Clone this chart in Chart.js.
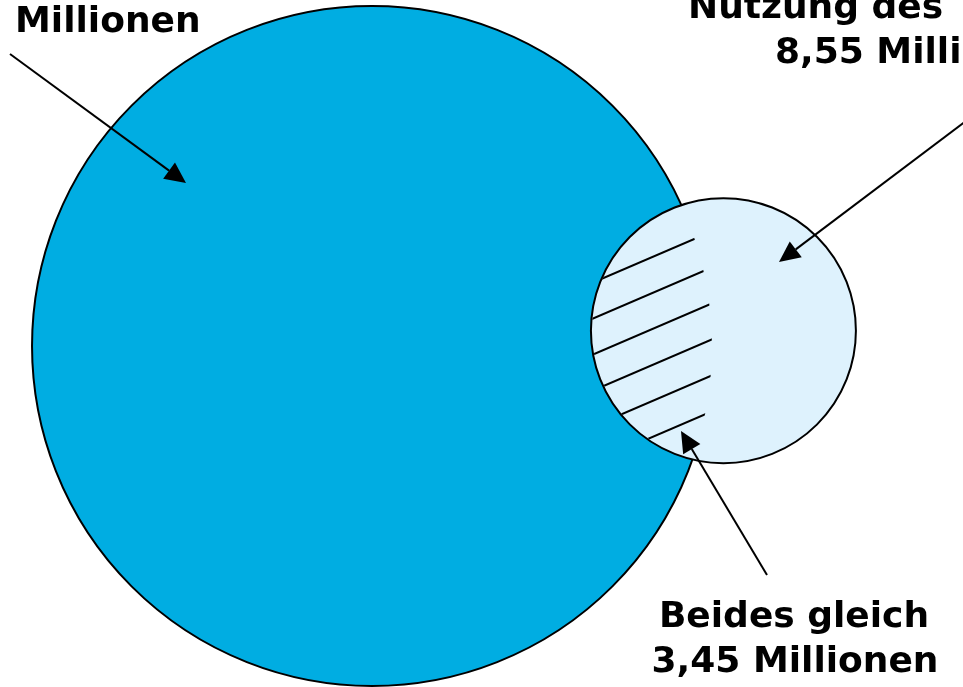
<!DOCTYPE html>
<html><head><meta charset="utf-8">
<script src="https://cdn.jsdelivr.net/npm/chart.js@4"></script>
<style>html,body{margin:0;padding:0;background:#fff;overflow:hidden}</style>
</head><body>
<canvas id="c" width="963" height="687"></canvas>
<script>
// ---------- DATA (millions) ----------
const setNames   = ['Gesamt', 'Nutzung des'];
const setValues  = [56.3, 8.55];          // first value estimated from circle area (label cut off)
const overlapValue = 3.45;                 // "Beides gleich"
const labelTexts = [
  ['Millionen'],
  ['Nutzung des', '8,55 Millionen'],
  ['Beides gleich', '3,45 Millionen']
];

// ---------- LAYOUT ----------
const W = 963, H = 687;                    // axis range = canvas size, so 1 axis unit = 1 px
const unitsPerSqrtMillion = 45.31;         // circle radius (axis units) per sqrt(million)
const bigCenter = {x: 372, y: 346};
const smallDirDeg = -2.5;                  // direction from big to small circle
const colBig = '#00ADE2', colSmall = '#DEF2FD';
const FONT = 'bold 36px "DejaVu Sans"';
const labelAnchors = [                     // [x, baselineY, align, x2, baselineY2]
  [15, 32, 'left'],
  [688, 18, 'left', 775, 63],
  [794, 627, 'center', 795, 672]
];
const arrows = [                           // from -> tip (axis units)
  [10, 54, 186, 183],
  [990, 103, 779, 262],
  [767, 575, 681, 431]
];
const hatch = {slope: -0.43, refX: 650, firstY: 258, gap: 36, count: 6};

// radii from values (area proportional)
const rBig = unitsPerSqrtMillion * Math.sqrt(setValues[0]);
const rSmall = unitsPerSqrtMillion * Math.sqrt(setValues[1]);
function lensArea(d, r, R) {
  const a = r*r*Math.acos((d*d + r*r - R*R)/(2*d*r));
  const b = R*R*Math.acos((d*d + R*R - r*r)/(2*d*R));
  const c = 0.5*Math.sqrt((-d+r+R)*(d+r-R)*(d-r+R)*(d+r+R));
  return a + b - c;
}
const targetOverlap = overlapValue * unitsPerSqrtMillion * unitsPerSqrtMillion * Math.PI;
let lo = rBig - rSmall + 0.01, hi = rBig + rSmall - 0.01;
for (let i = 0; i < 60; i++) {
  const mid = (lo + hi) / 2;
  if (lensArea(mid, rSmall, rBig) > targetOverlap) lo = mid; else hi = mid;
}
const dist = (lo + hi) / 2;
const ang = smallDirDeg * Math.PI / 180;
const smallCenter = {x: bigCenter.x + dist*Math.cos(ang), y: bigCenter.y + dist*Math.sin(ang)};
const pxPerUnit = 963 / W;

const overlay = {
  id: 'overlay',
  afterDatasetsDraw(chart) {
    const ctx = chart.ctx, sx = chart.scales.x, sy = chart.scales.y;
    const px = v => sx.getPixelForValue(v), py = v => sy.getPixelForValue(v);
    const pr = r => px(r) - px(0);
    // hatch in overlap
    ctx.save();
    ctx.beginPath(); ctx.arc(px(smallCenter.x), py(smallCenter.y), pr(rSmall) - 1, 0, Math.PI*2); ctx.clip();
    ctx.beginPath(); ctx.arc(px(bigCenter.x), py(bigCenter.y), pr(rBig), 0, Math.PI*2); ctx.clip();
    ctx.strokeStyle = '#000'; ctx.lineWidth = 2;
    for (let i = 0; i < hatch.count; i++) {
      const y0 = hatch.firstY + i*hatch.gap;
      ctx.beginPath();
      ctx.moveTo(px(hatch.refX - 120), py(y0 + hatch.slope*(-120)));
      ctx.lineTo(px(hatch.refX + 120), py(y0 + hatch.slope*(120)));
      ctx.stroke();
    }
    ctx.restore();
    // arrows
    ctx.save();
    ctx.strokeStyle = '#000'; ctx.fillStyle = '#000'; ctx.lineWidth = 2;
    arrows.forEach(([x1, y1, x2, y2]) => {
      const X1 = px(x1), Y1 = py(y1), X2 = px(x2), Y2 = py(y2);
      const a = Math.atan2(Y2 - Y1, X2 - X1), L = 21, hw = 10;
      const bx = X2 - L*Math.cos(a), by = Y2 - L*Math.sin(a);
      ctx.beginPath(); ctx.moveTo(X1, Y1); ctx.lineTo(bx, by); ctx.stroke();
      ctx.beginPath();
      ctx.moveTo(X2, Y2);
      ctx.lineTo(bx + hw*Math.sin(a), by - hw*Math.cos(a));
      ctx.lineTo(bx - hw*Math.sin(a), by + hw*Math.cos(a));
      ctx.closePath(); ctx.fill();
    });
    // labels
    ctx.font = FONT; ctx.fillStyle = '#000'; ctx.textBaseline = 'alphabetic';
    labelTexts.forEach((lines, i) => {
      const an = labelAnchors[i];
      ctx.textAlign = an[2];
      ctx.fillText(lines[0], px(an[0]), py(an[1]));
      if (lines[1]) ctx.fillText(lines[1], px(an[3]), py(an[4]));
    });
    ctx.restore();
  }
};

new Chart(document.getElementById('c'), {
  type: 'bubble',
  data: {
    datasets: [
      { label: setNames[1], data: [{x: smallCenter.x, y: smallCenter.y, r: rSmall * pxPerUnit}],
        backgroundColor: colSmall, borderColor: '#000', borderWidth: 2, order: 1, clip: false },
      { label: setNames[0], data: [{x: bigCenter.x, y: bigCenter.y, r: rBig * pxPerUnit}],
        backgroundColor: colBig, borderColor: '#000', borderWidth: 2, order: 2, clip: false }
    ]
  },
  options: {
    responsive: false, animation: false, events: [],
    layout: {padding: 0, autoPadding: false},
    plugins: {legend: {display: false}, tooltip: {enabled: false}},
    scales: {
      x: {type: 'linear', min: 0, max: W, display: false},
      y: {type: 'linear', min: 0, max: H, reverse: true, display: false}
    }
  },
  plugins: [overlay]
});
</script>
</body></html>
